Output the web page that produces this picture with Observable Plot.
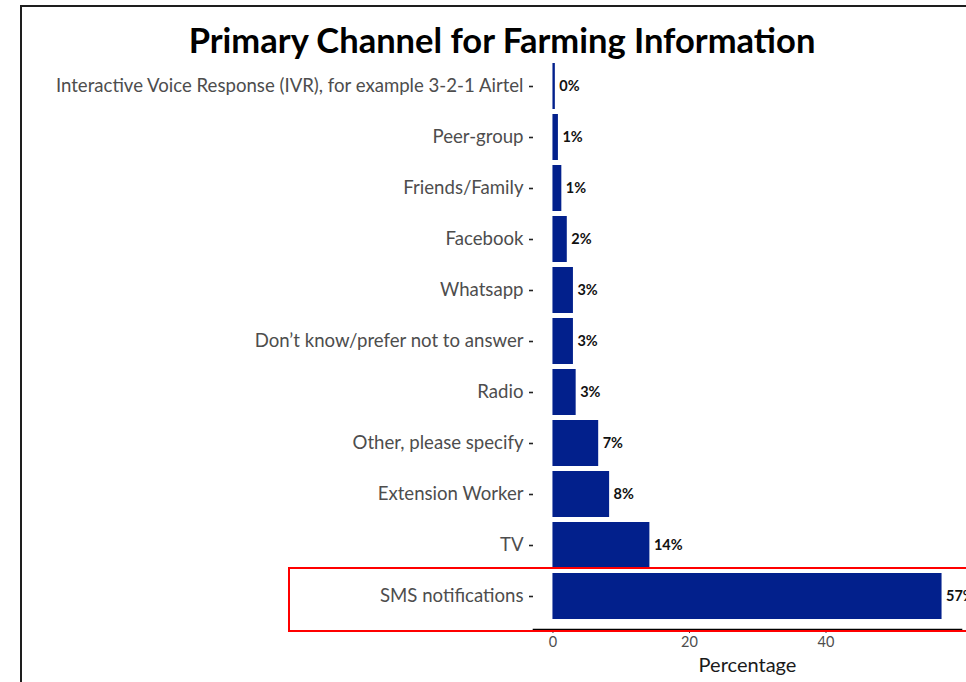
<!DOCTYPE html>
<html>
<head>
<meta charset="utf-8">
<script src="https://cdn.jsdelivr.net/npm/d3@7"></script>
<script src="https://cdn.jsdelivr.net/npm/@observablehq/plot@0.6"></script>
<style>
  html, body { margin: 0; padding: 0; background: #fff; overflow: hidden; }
  #wrap { position: relative; width: 966px; height: 682px; overflow: hidden; background: #fff; }
  #frame { position: absolute; left: 20px; top: 5px; width: 2000px; height: 2000px;
           border-left: 2px solid #1e1e1e; border-top: 2px solid #1e1e1e; }
  #title { position: absolute; left: 0; width: 1004px; top: 19px; text-align: center;
           font-family: Lato, sans-serif; font-weight: 700; font-size: 34.5px; line-height: 42px; color: #000; }
  #hl { position: absolute; left: 288px; top: 567px; width: 760px; height: 61px; border: 2px solid #ff0000; pointer-events: none; }
  #chart { position: absolute; left: 0; top: 0; }
  #chart svg { overflow: visible; background: transparent; }
</style>
</head>
<body>
<div id="wrap">
  <div id="frame"></div>
  <div id="chart"></div>
  <div id="title">Primary Channel for Farming Information</div>
  <div id="hl"></div>
</div>
<script>
const channels = [
  "Interactive Voice Response (IVR), for example 3-2-1 Airtel",
  "Peer-group",
  "Friends/Family",
  "Facebook",
  "Whatsapp",
  "Don\u2019t know/prefer not to answer",
  "Radio",
  "Other, please specify",
  "Extension Worker",
  "TV",
  "SMS notifications"
];
const percentages = [0.35, 0.8, 1.3, 2.1, 3.0, 3.0, 3.4, 6.7, 8.3, 14.2, 57.0];
const valueLabels = ["0%", "1%", "1%", "2%", "3%", "3%", "3%", "7%", "8%", "14%", "57%"];
const xTicks = [0, 20, 40];

const data = channels.map((c, i) => ({channel: c, pct: percentages[i], label: valueLabels[i]}));

const chart = Plot.plot({
  width: 966,
  height: 682,
  marginTop: 52,
  marginBottom: 53,
  marginLeft: 533,
  marginRight: 5,
  style: {fontFamily: "Lato, sans-serif", background: "transparent"},
  x: {domain: [-2.85, 59.85]},
  y: {domain: channels, paddingInner: 0.107, paddingOuter: 0.155, align: 0.5},
  marks: [
    Plot.barX(data, {x: "pct", y: "channel", fill: "#02208c"}),
    Plot.text(data, {x: "pct", y: "channel", text: "label", textAnchor: "start", dx: 4,
      fontWeight: "bold", fontSize: 14.5, fill: "#111"}),
    Plot.axisY({tickSize: 4, tickPadding: 6, fontSize: 18.6, fill: "#4d4d4d", stroke: "#222", strokeWidth: 1.6, label: null}),
    Plot.axisX({ticks: xTicks, tickSize: 4, tickPadding: 3, fontSize: 14.5, fill: "#4d4d4d", stroke: "#333",
      label: "Percentage", labelAnchor: "center", labelArrow: "none", labelOffset: 42}),
    Plot.frame({anchor: "bottom", stroke: "#000", strokeWidth: 1.6})
  ]
});
document.getElementById("chart").appendChild(chart);
// style the axis title
chart.querySelectorAll("text").forEach(t => {
  if (t.textContent === "Percentage") { t.setAttribute("font-size", "20"); t.style.fontSize = "20px"; t.setAttribute("fill", "#1a1a1a"); }
});
</script>
</body>
</html>
